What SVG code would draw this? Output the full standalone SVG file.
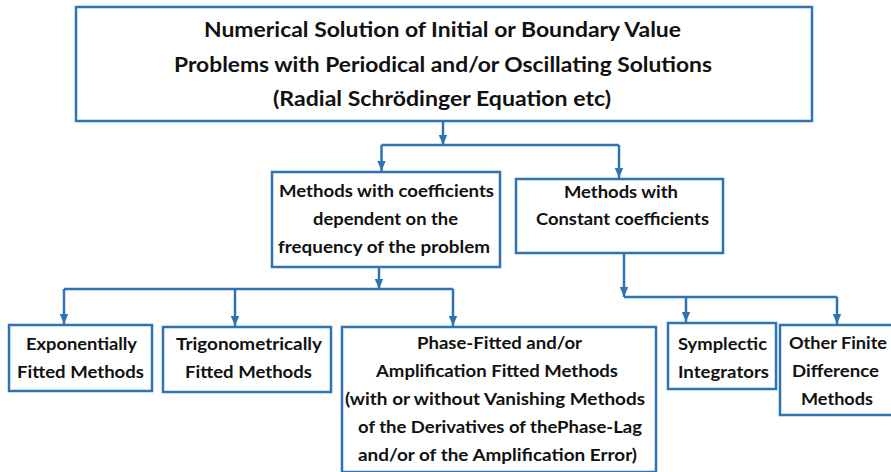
<svg xmlns="http://www.w3.org/2000/svg" width="891" height="472" viewBox="0 0 891 472">
<style>
.box{fill:#ffffff;stroke:#2E74B5;stroke-width:2.5}
.t{font-family:Lato,"Open Sans","Liberation Sans",sans-serif;font-weight:bold;fill:#111111;font-size:17.5px}
.big{font-size:21px}
.c{fill:none;stroke:#2E74B5;stroke-width:2.5}
</style>
<defs>
<marker id="ah" markerUnits="userSpaceOnUse" markerWidth="10" markerHeight="10" viewBox="0 0 10 10" refX="10" refY="5" orient="auto">
<path d="M0,0.8 L10,5 L0,9.2 Z" fill="#2E74B5"/>
</marker>
</defs>
<rect width="891" height="472" fill="#ffffff"/>
<g id="connectors">
<path class="c" d="M443,122 V145" marker-end="url(#ah)"/>
<path class="c" d="M381.5,145 H619"/>
<path class="c" d="M381.5,145 V171" marker-end="url(#ah)"/>
<path class="c" d="M619,145 V178" marker-end="url(#ah)"/>
<path class="c" d="M379,268 V289" marker-end="url(#ah)"/>
<path class="c" d="M64,289 H453"/>
<path class="c" d="M64,289 V324" marker-end="url(#ah)"/>
<path class="c" d="M235,289 V326" marker-end="url(#ah)"/>
<path class="c" d="M453,289 V326" marker-end="url(#ah)"/>
<path class="c" d="M624,254 V297" marker-end="url(#ah)"/>
<path class="c" d="M624,297 H837"/>
<path class="c" d="M686,297 V322" marker-end="url(#ah)"/>
<path class="c" d="M837,297 V324" marker-end="url(#ah)"/>
</g>
<g id="root">
<rect class="box" x="76" y="7" width="736" height="114"/>
<text class="t big" x="204" y="37" textLength="477" lengthAdjust="spacingAndGlyphs">Numerical Solution of Initial or Boundary Value</text>
<text class="t big" x="174" y="72" textLength="538" lengthAdjust="spacingAndGlyphs">Problems with Periodical and/or Oscillating Solutions</text>
<text class="t big" x="273" y="106" textLength="338" lengthAdjust="spacingAndGlyphs">(Radial Schrödinger Equation etc)</text>
</g>
<g id="freq">
<rect class="box" x="272" y="172" width="228" height="95"/>
<text class="t" x="279" y="197" textLength="215" lengthAdjust="spacingAndGlyphs">Methods with coefficients</text>
<text class="t" x="313" y="225" textLength="145" lengthAdjust="spacingAndGlyphs">dependent on the</text>
<text class="t" x="278" y="253" textLength="212" lengthAdjust="spacingAndGlyphs">frequency of the problem</text>
</g>
<g id="const">
<rect class="box" x="516" y="179" width="207" height="74"/>
<text class="t" x="564" y="197.5" textLength="114" lengthAdjust="spacingAndGlyphs">Methods with</text>
<text class="t" x="536" y="225" textLength="173" lengthAdjust="spacingAndGlyphs">Constant coefficients</text>
</g>
<g id="expo">
<rect class="box" x="9" y="325" width="143" height="66"/>
<text class="t" x="26" y="349.5" textLength="111" lengthAdjust="spacingAndGlyphs">Exponentially</text>
<text class="t" x="17" y="377.5" textLength="127" lengthAdjust="spacingAndGlyphs">Fitted Methods</text>
</g>
<g id="trig">
<rect class="box" x="163" y="327" width="168" height="65"/>
<text class="t" x="176" y="349.5" textLength="146" lengthAdjust="spacingAndGlyphs">Trigonometrically</text>
<text class="t" x="185" y="377.5" textLength="127" lengthAdjust="spacingAndGlyphs">Fitted Methods</text>
</g>
<g id="phase">
<rect class="box" x="342" y="327" width="314" height="145"/>
<text class="t" x="417" y="349" textLength="165" lengthAdjust="spacingAndGlyphs">Phase-Fitted and/or</text>
<text class="t" x="376" y="377" textLength="242" lengthAdjust="spacingAndGlyphs">Amplification Fitted Methods</text>
<text class="t" x="345" y="405" textLength="300" lengthAdjust="spacingAndGlyphs">(with or without Vanishing Methods</text>
<text class="t" x="358" y="433" textLength="284" lengthAdjust="spacingAndGlyphs">of the Derivatives of thePhase-Lag</text>
<text class="t" x="358" y="461" textLength="279" lengthAdjust="spacingAndGlyphs">and/or of the Amplification Error)</text>
</g>
<g id="symp">
<rect class="box" x="668" y="323" width="108" height="66"/>
<text class="t" x="678" y="349.5" textLength="89" lengthAdjust="spacingAndGlyphs">Symplectic</text>
<text class="t" x="678" y="377.5" textLength="91" lengthAdjust="spacingAndGlyphs">Integrators</text>
</g>
<g id="other">
<rect class="box" x="780" y="325" width="130" height="90"/>
<text class="t" x="789" y="348.5" textLength="98" lengthAdjust="spacingAndGlyphs">Other Finite</text>
<text class="t" x="792" y="377" textLength="87" lengthAdjust="spacingAndGlyphs">Difference</text>
<text class="t" x="801" y="404.5" textLength="72" lengthAdjust="spacingAndGlyphs">Methods</text>
</g>
</svg>
